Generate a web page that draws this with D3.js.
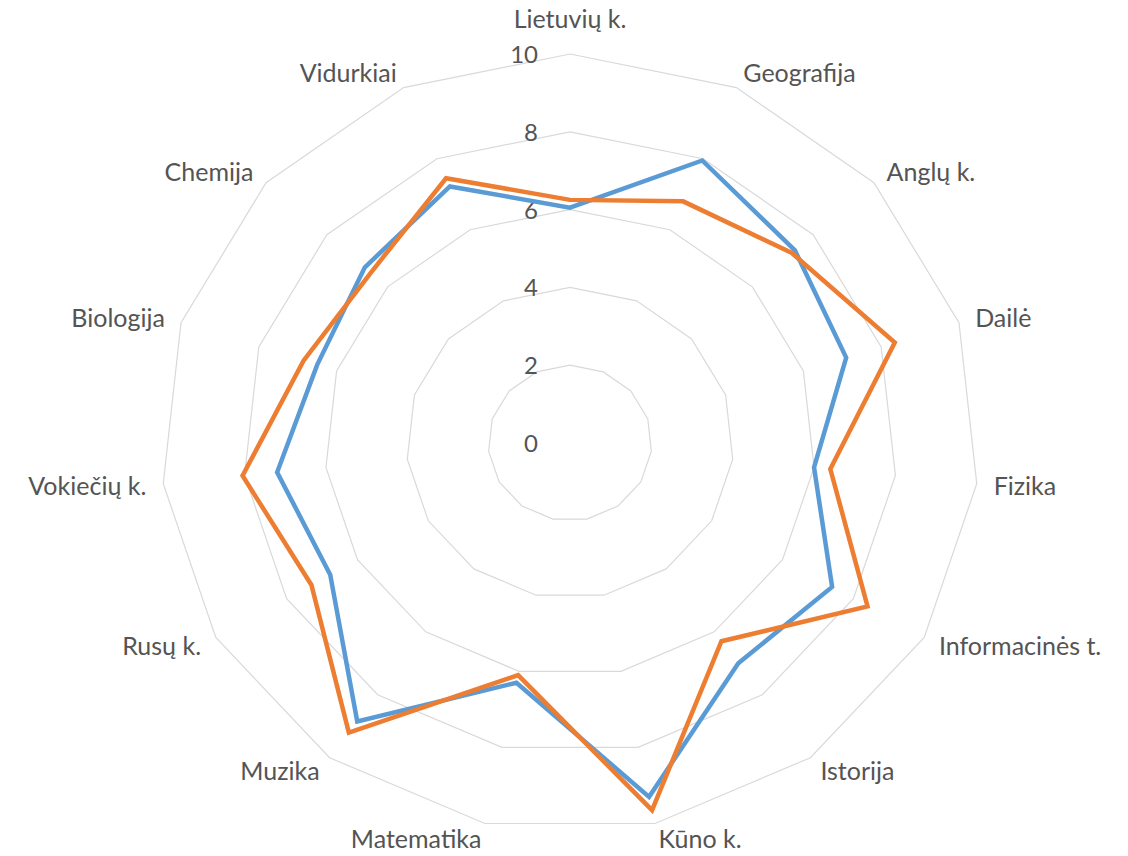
<!DOCTYPE html>
<html>
<head>
  <meta charset="utf-8">
  <title>Radar – dalykų pažymiai</title>
  <script src="https://d3js.org/d3.v7.min.js"></script>
  <style>
    html, body {
      margin: 0;
      padding: 0;
      background: #fff;
    }
    svg {
      display: block;
    }
    .grid {
      fill: none;
      stroke: #d9d9d9;
      stroke-width: 1.2px;
    }
    .series {
      fill: none;
      stroke-width: 4.5px;
      stroke-linejoin: miter;
    }
    .cat-label, .tick-label {
      font-family: Lato, "Noto Sans", sans-serif;
      font-size: 25px;
      fill: #545454;
    }
    .tick-label {
      font-size: 24px;
    }
  </style>
</head>
<body>
  <svg width="1128" height="856"></svg>

  <script>
    // Categories, clockwise from the top
    const categories = [
      "Lietuvių k.", "Geografija", "Anglų k.", "Dailė", "Fizika",
      "Informacinės t.", "Istorija", "Kūno k.", "Matematika", "Muzika",
      "Rusų k.", "Vokiečių k.", "Biologija", "Chemija", "Vidurkiai"
    ];

    // Blue series
    const seriesBlue = [6.05, 7.95, 7.4, 7.1, 6.0, 7.4, 7.0, 9.3, 6.3, 8.85, 6.77, 7.2, 6.5, 6.75, 7.22];
    // Orange series
    const seriesOrange = [6.25, 6.8, 7.3, 8.35, 6.4, 8.4, 6.3, 9.65, 6.1, 9.2, 7.3, 8.05, 6.85, 6.55, 7.45];

    const tickValues = [0, 2, 4, 6, 8, 10];

    const cx = 570, cy = 443;

    // the picture is a little wider than tall, so two radial scales
    const rx = d3.scaleLinear().domain([0, 10]).range([0, 409]);
    const ry = d3.scaleLinear().domain([0, 10]).range([0, 389]);

    const angle = d3.scaleLinear().domain([0, categories.length]).range([0, 2 * Math.PI]);

    function pt(i, v) {
      const a = angle(i);
      return [cx + Math.sin(a) * rx(v), cy - Math.cos(a) * ry(v)];
    }

    const svg = d3.select("svg");
    const g = svg.append("g");

    const closed = d3.line().curve(d3.curveLinearClosed);

    // rings (no ring drawn at 0)
    g.selectAll(".grid")
      .data(tickValues.filter(t => t > 0))
      .enter().append("path")
      .attr("class", "grid")
      .attr("d", t => closed(categories.map((c, i) => pt(i, t))));

    // value labels on the vertical axis
    g.selectAll(".tick-label")
      .data(tickValues)
      .enter().append("text")
      .attr("class", "tick-label")
      .attr("x", cx - 32)
      .attr("y", t => cy - ry(t) + 3)
      .attr("text-anchor", "end")
      .attr("dominant-baseline", "middle")
      .text(t => t);

    // series lines
    const series = [
      { values: seriesBlue, color: "#5b9bd5" },
      { values: seriesOrange, color: "#ed7d31" }
    ];

    g.selectAll(".series")
      .data(series)
      .enter().append("path")
      .attr("class", "series")
      .attr("stroke", d => d.color)
      .attr("d", d => closed(d.values.map((v, i) => pt(i, v))));

    // category labels just outside the outer ring
    g.selectAll(".cat-label")
      .data(categories)
      .enter().append("text")
      .attr("class", "cat-label")
      .each(function (c, i) {
        const a = angle(i);
        const s = Math.sin(a), co = Math.cos(a);
        const p = pt(i, 10);
        let x = p[0] + s * 17;
        let y = p[1] - co * 16 + 3;
        if (co > 0.95) y -= 19;
        const anchor = Math.abs(s) < 0.1 ? "middle" : (s > 0 ? "start" : "end");
        d3.select(this)
          .attr("x", x)
          .attr("y", y)
          .attr("text-anchor", anchor)
          .attr("dominant-baseline", "middle")
          .text(c);
      });
  </script>
</body>
</html>
